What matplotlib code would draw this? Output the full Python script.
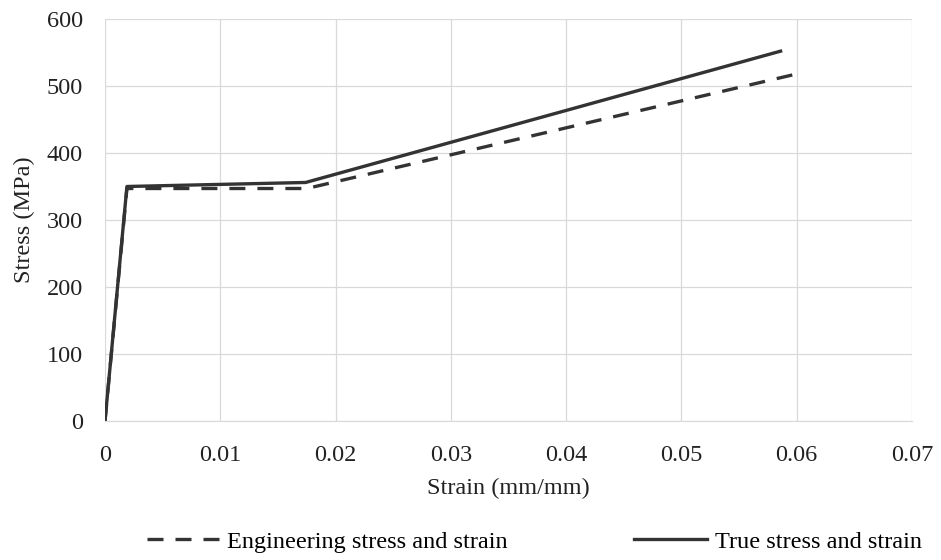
import matplotlib.pyplot as plt

# data
eng_strain = [0.0, 0.0019, 0.0175, 0.0600]
eng_stress = [0, 347, 347, 518]
true_strain = [0.0, 0.0019, 0.0174, 0.0586]
true_stress = [0, 350, 356, 552]

plt.rcParams['font.family'] = ['Liberation Serif', 'DejaVu Serif']

fig = plt.figure(figsize=(9.41, 5.6), dpi=100)
ax = fig.add_axes([0.1116, 0.2482, 0.8576, 0.7179])

ax.plot(eng_strain, eng_stress, color='#333333', lw=2.4, ls=(0, (4.8, 3.6)),
        label='Engineering stress and strain')
ax.plot(true_strain, true_stress, color='#333333', lw=2.4,
        label='True stress and strain')

ax.set_xlim(0, 0.07)
ax.set_ylim(0, 600)
ax.set_xticks([0, 0.01, 0.02, 0.03, 0.04, 0.05, 0.06, 0.07])
ax.set_xticklabels(['0', '0.01', '0.02', '0.03', '0.04', '0.05', '0.06', '0.07'])
ax.set_yticks(range(0, 601, 100))
ax.grid(True, color='#d9d9d9', lw=0.9)
for s in ['top', 'right', 'left']:
    ax.spines[s].set_visible(False)
ax.spines['bottom'].set_color('#d9d9d9')
ax.tick_params(length=0, labelsize=17.5, colors='#222222')
ax.tick_params(axis='x', pad=17)
ax.tick_params(axis='y', pad=16)

ax.set_xlabel('Strain (mm/mm)', fontsize=17.5, color='#222222', labelpad=9)
ax.set_ylabel('Stress (MPa)', fontsize=17.5, color='#222222', labelpad=8)

ax.legend(loc='center', bbox_to_anchor=(0.532, -0.30), ncol=2, frameon=False,
          fontsize=17.5, handlelength=3.0, handletextpad=0.3, columnspacing=5.2)

fig.savefig('out.png', dpi=100)
